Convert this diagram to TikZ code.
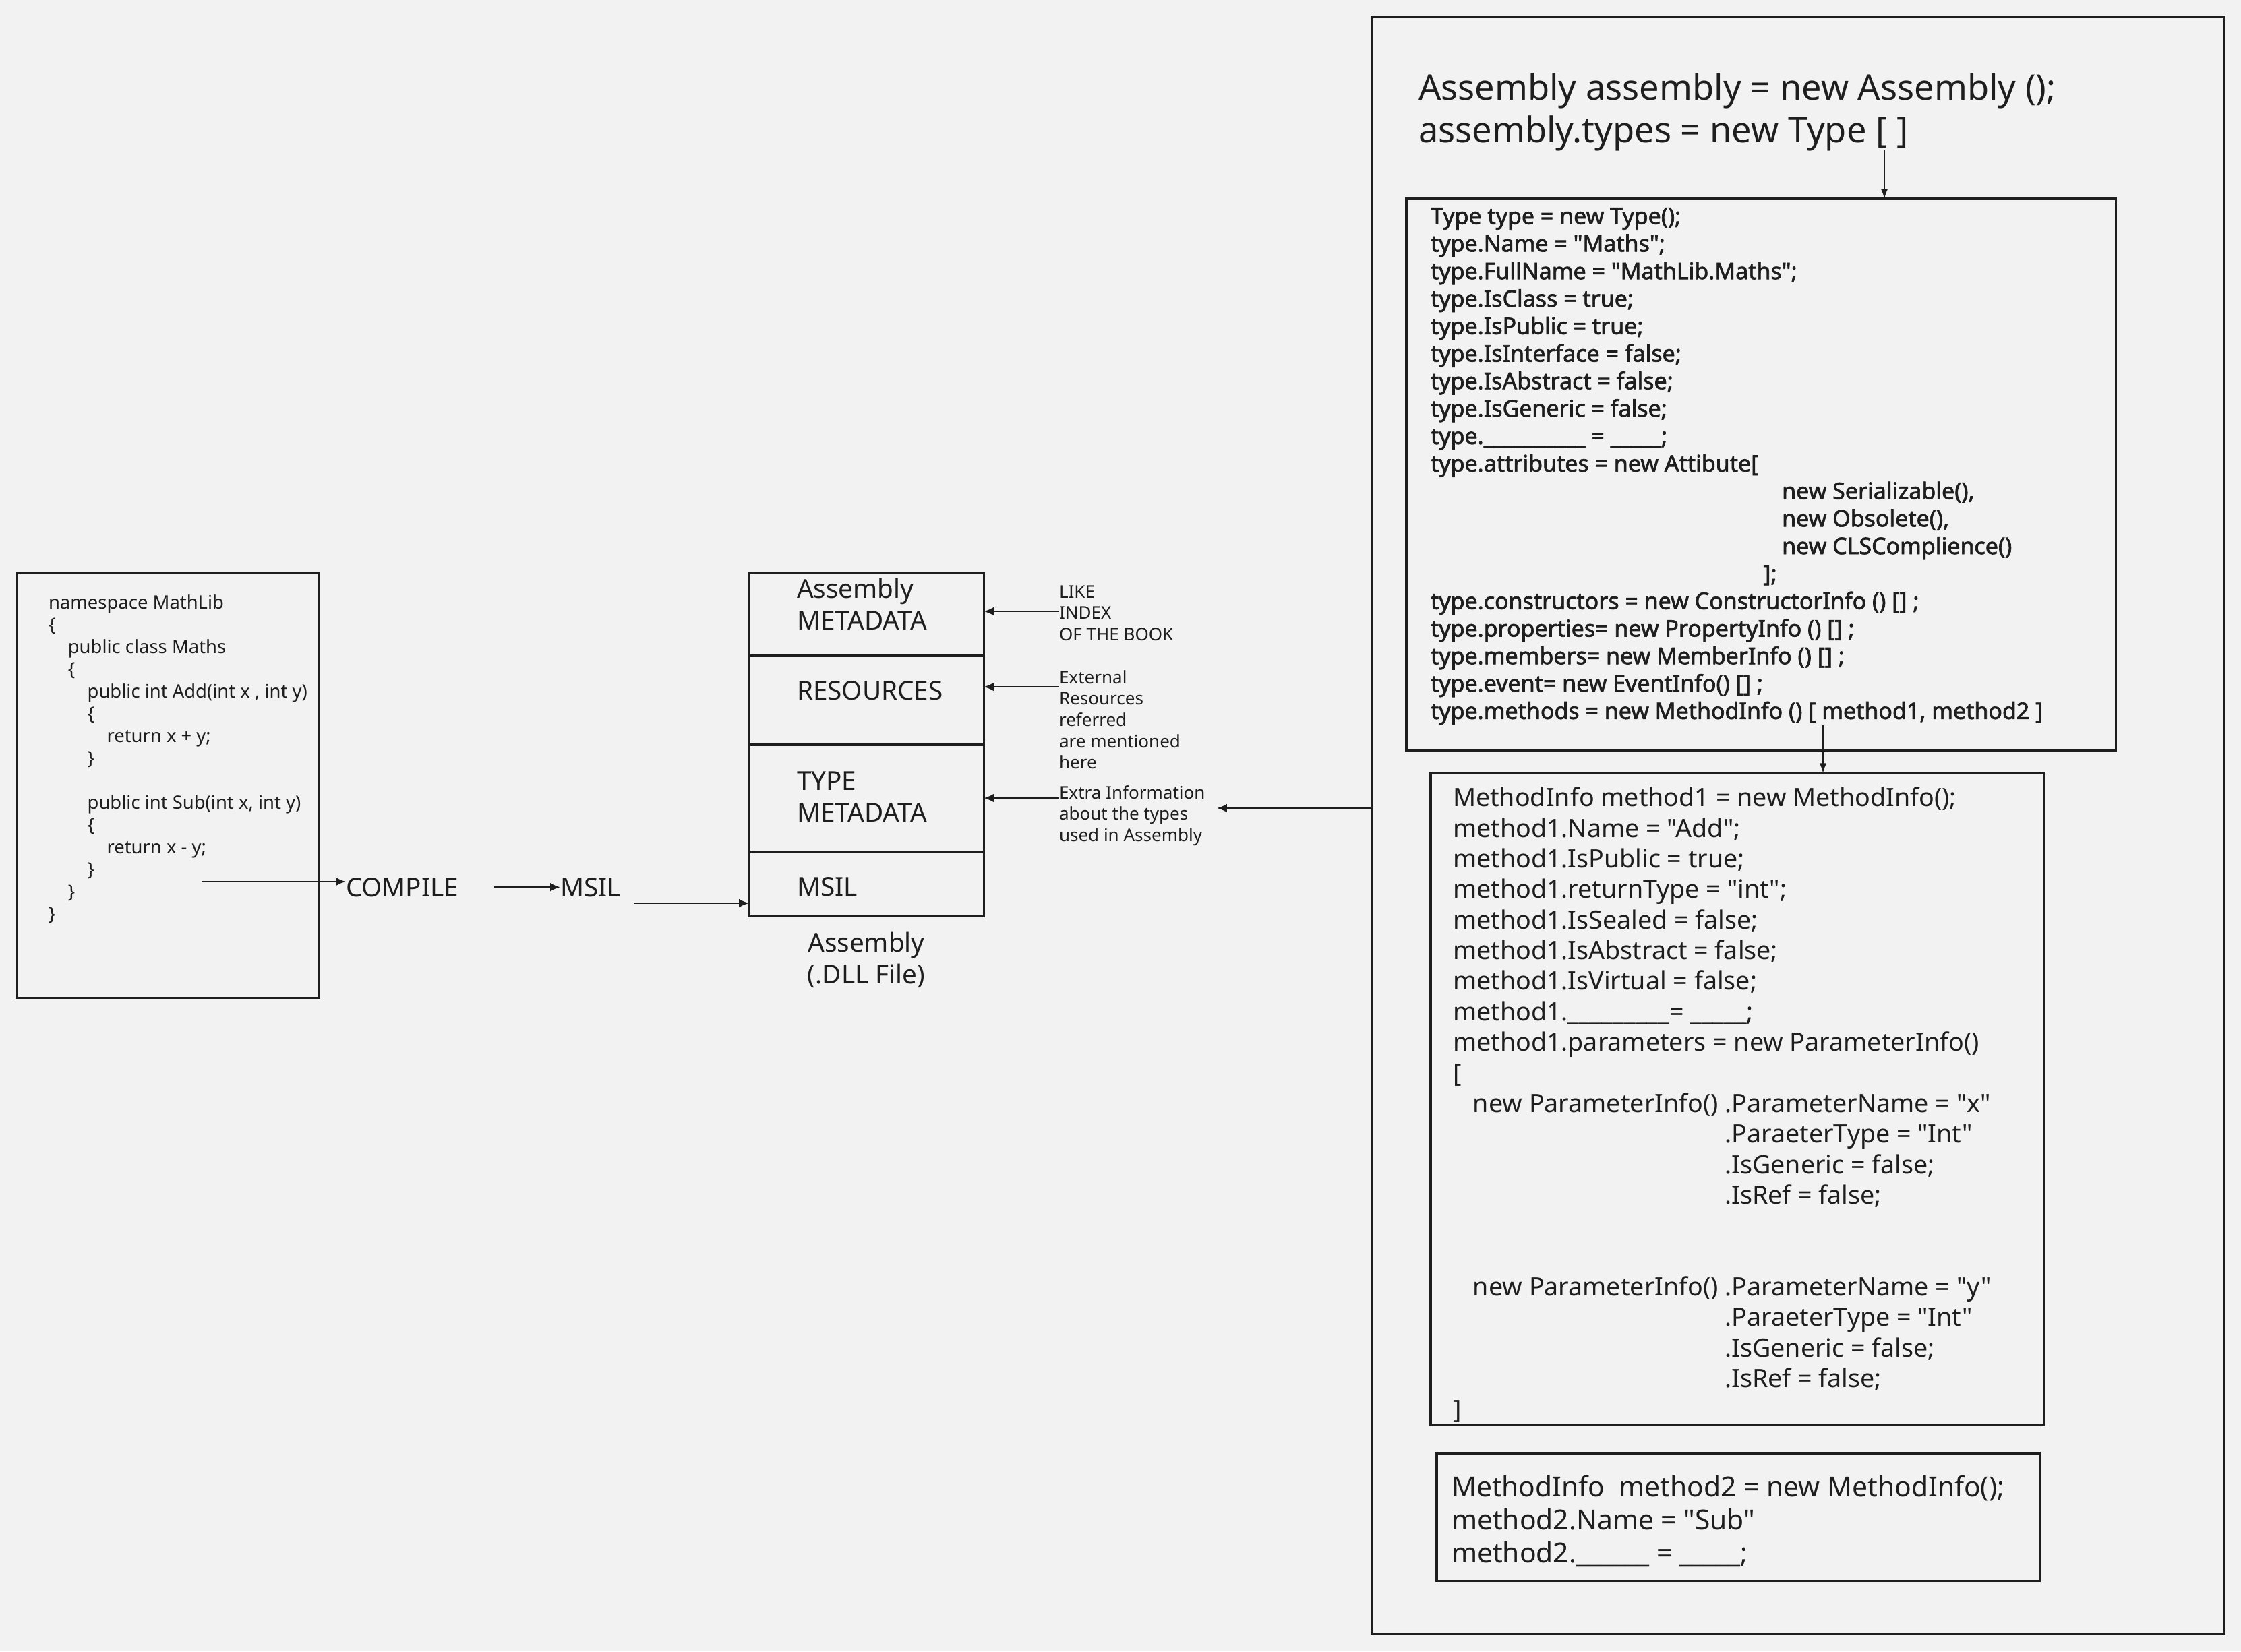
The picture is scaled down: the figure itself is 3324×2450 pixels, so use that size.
\documentclass[tikz,border=0pt]{standalone}
\usepackage{fontspec}
\setmainfont{Noto Sans}[Ligatures=TeXOff]
\newfontfamily\typefont{Noto Sans}[FakeBold=2]
\usetikzlibrary{arrows.meta}
\definecolor{bg}{HTML}{F2F2F2}
\definecolor{ink}{HTML}{1E1E1E}
\newcommand\indentby[1]{\hspace*{#1}}
\begin{document}
\begin{tikzpicture}[x=0.01cm,y=-0.01cm,
  box/.style={draw=ink, line width=0.9pt, inner sep=0pt, outer sep=0pt, anchor=north west},
  txt/.style={inner sep=0pt, outer sep=0pt, anchor=north west, align=left, text=ink},
  code/.style={txt, font=\fontsize{7.8}{9.4}\selectfont},
  label/.style={txt, font=\fontsize{11}{13.3}\selectfont},
  note/.style={txt, font=\fontsize{7.4}{9}\selectfont},
  title/.style={txt, font=\fontsize{14.9}{18}\selectfont},
  typetxt/.style={txt, font=\typefont\fontsize{9.66}{11.6}\selectfont},
  mtxt/.style={txt, font=\fontsize{10.7}{12.9}\selectfont},
  mtxtb/.style={txt, font=\fontsize{11.6}{13.9}\selectfont},
  arr/.style={draw=ink, line width=0.7pt, -{Latex[length=4.2pt,width=3.6pt]}},
  thinarr/.style={draw=ink, line width=0.5pt, -{Latex[length=4.2pt,width=3pt]}},
]
% canvas
\fill[bg] (0,0) rectangle (3324,2450);
\useasboundingbox (0,0) rectangle (3324,2450);

% ---- source code ----
\node[box, minimum width=4.48cm, minimum height=6.30cm] (srcbox) at (25,850) {};
\node[code] (src) at (72,880) {\strut namespace MathLib\\
\{\\
\indentby{8.2pt}public class Maths\\
\indentby{8.2pt}\{\\
\indentby{16.4pt}public int Add(int x , int y)\\
\indentby{16.4pt}\{\\
\indentby{24.6pt}return x + y;\\
\indentby{16.4pt}\}\\
\mbox{}\\
\indentby{16.4pt}public int Sub(int x, int y)\\
\indentby{16.4pt}\{\\
\indentby{24.6pt}return x - y;\\
\indentby{16.4pt}\}\\
\indentby{8.2pt}\}\\
\}};

% ---- compile chain ----
\node[label, anchor=base west] (compile) at (513,1330) {COMPILE};
\node[label, anchor=base west] (msil) at (831,1330) {MSIL};
\coordinate (srcout) at (300,1308);
\draw[arr] (srcout) -- (srcout -| compile.west);
\draw[arr] ([xshift=0.52cm]compile.east) -- (msil.west);

% ---- assembly file ----
\node[box, minimum width=3.48cm, minimum height=1.23cm] (secmeta) at (1111,850) {};
\node[box, minimum width=3.48cm, minimum height=1.32cm] (secres) at (1111,973) {};
\node[box, minimum width=3.48cm, minimum height=1.59cm] (sectype) at (1111,1105) {};
\node[box, minimum width=3.48cm, minimum height=0.95cm] (secmsil) at (1111,1264) {};
\node[label] (tmeta) at (1182,855) {\strut Assembly\\METADATA};
\node[label] (tres) at (1182,1006) {\strut RESOURCES};
\node[label] (ttype) at (1182,1140) {\strut TYPE\\METADATA};
\node[label] (tmsil) at (1182,1297) {\strut MSIL};
\node[label, anchor=north, align=center] (asmname) at (1285,1380) {\strut Assembly\\(.DLL File)};
\coordinate (msilout) at (941,1340);
\draw[arr] (msilout) -- (msilout -| secmsil.west);

% ---- notes ----
\node[note] (nidx) at (1571,865) {\strut LIKE\\INDEX\\OF THE BOOK};
\node[note] (nres) at (1571,992) {\strut External\\Resources\\referred\\are mentioned\\here};
\node[note] (ntype) at (1571,1163) {\strut Extra Information\\about the types\\used in Assembly};
\coordinate (pidx) at (1571,907);
\coordinate (pres) at (1571,1019);
\coordinate (ptype) at (1571,1184);
\draw[arr] (pidx) -- (pidx -| secmeta.east);
\draw[arr] (pres) -- (pres -| secres.east);
\draw[arr] (ptype) -- (ptype -| sectype.east);

% ---- reflection model ----
\node[box, minimum width=12.64cm, minimum height=23.98cm] (model) at (2035,25) {};
\coordinate (ptip) at (1805,1199);
\draw[arr] (ptip -| model.west) -- (ptip);

\node[title] (asm) at (2104,104) {\strut Assembly assembly = new Assembly ();\\assembly.types = new Type [ ]};

\node[box, minimum width=10.52cm, minimum height=8.18cm] (typebox) at (2086,295) {};
\coordinate (typesout) at (2795,222);
\draw[thinarr] (typesout) -- (typesout |- typebox.north);
\node[typetxt] (typecode) at (2122,304) {\strut Type type = new Type();\\
type.Name = "Maths";\\
type.FullName = "MathLib.Maths";\\
type.IsClass = true;\\
type.IsPublic = true;\\
type.IsInterface = false;\\
type.IsAbstract = false;\\
type.IsGeneric = false;\\
type.\_\_\_\_\_\_\_\_\_\_ = \_\_\_\_\_;\\
type.attributes = new Attibute[\\
\indentby{148.2pt}new Serializable(),\\
\indentby{148.2pt}new Obsolete(),\\
\indentby{148.2pt}new CLSComplience()\\
\indentby{140.3pt}];\\
type.constructors = new ConstructorInfo () [] ;\\
type.properties= new PropertyInfo () [] ;\\
type.members= new MemberInfo () [] ;\\
type.event= new EventInfo() [] ;\\
type.methods = new MethodInfo () [ method1, method2 ]};

\node[box, minimum width=9.10cm, minimum height=9.67cm] (m1box) at (2122,1147) {};
\coordinate (methout) at (2704,1075);
\draw[thinarr] (methout) -- (methout |- m1box.north);
\node[mtxt] (m1code) at (2155,1165) {\strut MethodInfo method1 = new MethodInfo();\\
method1.Name = "Add";\\
method1.IsPublic = true;\\
method1.returnType = "int";\\
method1.IsSealed = false;\\
method1.IsAbstract = false;\\
method1.IsVirtual = false;\\
method1.\_\_\_\_\_\_\_\_\_= \_\_\_\_\_;\\
method1.parameters = new ParameterInfo()\\
{[}\\
\indentby{8.5pt}\makebox[106.2pt][l]{new ParameterInfo()}.ParameterName = "x"\\
\indentby{114.7pt}.ParaeterType = "Int"\\
\indentby{114.7pt}.IsGeneric = false;\\
\indentby{114.7pt}.IsRef = false;\\
\mbox{}\\
\mbox{}\\
\indentby{8.5pt}\makebox[106.2pt][l]{new ParameterInfo()}.ParameterName = "y"\\
\indentby{114.7pt}.ParaeterType = "Int"\\
\indentby{114.7pt}.IsGeneric = false;\\
\indentby{114.7pt}.IsRef = false;\\
]};

\node[box, minimum width=8.94cm, minimum height=1.89cm] (m2box) at (2131,2156) {};
\node[mtxtb] (m2code) at (2153,2186) {\strut MethodInfo\ \ method2 = new MethodInfo();\\
method2.Name = "Sub"\\
method2.\_\_\_\_\_\_ = \_\_\_\_\_;};
\end{tikzpicture}
\end{document}
